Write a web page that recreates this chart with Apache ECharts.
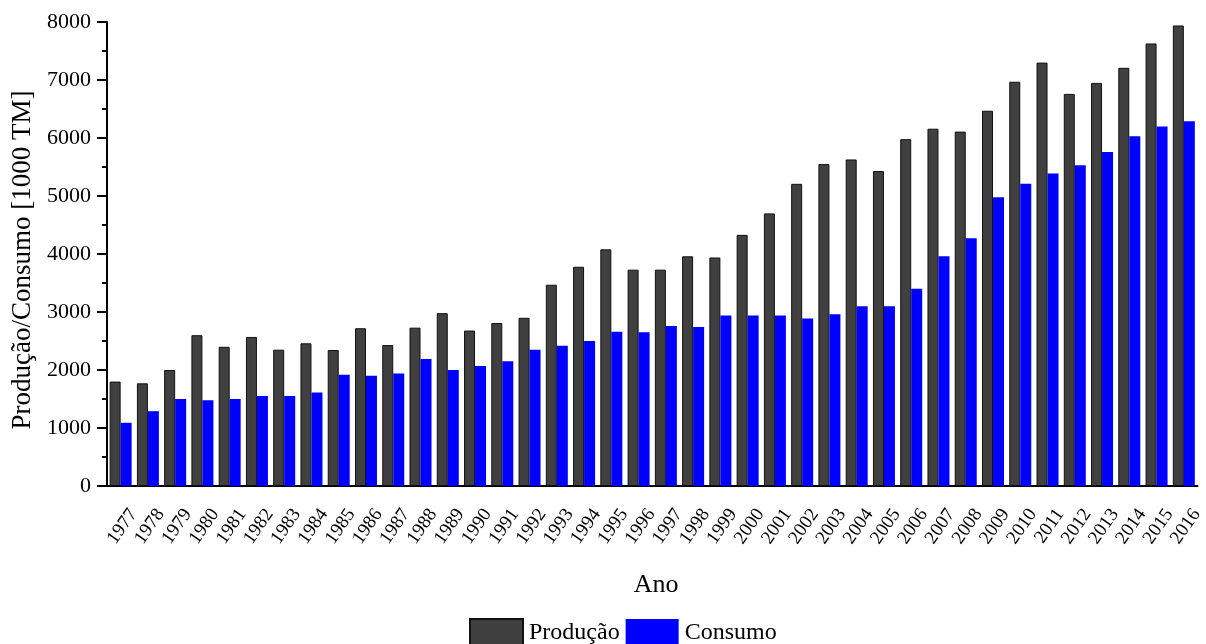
<!DOCTYPE html>
<html>
<head>
<meta charset="utf-8">
<script src="https://cdn.jsdelivr.net/npm/echarts@6/dist/echarts.min.js"></script>
<style>
  html, body { margin: 0; padding: 0; background: #fff; }
  #chart { width: 1206px; height: 644px; }
</style>
</head>
<body>
<div id="chart"></div>
<script>
// dados (1000 TM)
var anos = ['1977','1978','1979','1980','1981','1982','1983','1984','1985','1986',
  '1987','1988','1989','1990','1991','1992','1993','1994','1995','1996',
  '1997','1998','1999','2000','2001','2002','2003','2004','2005','2006',
  '2007','2008','2009','2010','2011','2012','2013','2014','2015','2016']
var producao = [1800, 1770, 2000, 2600, 2400, 2570, 2350, 2460, 2345, 2720,
  2430, 2730, 2980, 2680, 2810, 2900, 3470, 3780, 4080, 3730,
  3730, 3960, 3940, 4330, 4700, 5210, 5550, 5630, 5430, 5980,
  6160, 6110, 6470, 6970, 7300, 6760, 6950, 7210, 7630, 7940]
var consumo = [1090, 1290, 1500, 1480, 1500, 1550, 1550, 1610, 1920, 1900,
  1940, 2190, 2000, 2070, 2150, 2350, 2420, 2500, 2660, 2650,
  2760, 2740, 2940, 2940, 2940, 2890, 2960, 3100, 3100, 3400,
  3960, 4270, 4980, 5210, 5390, 5530, 5760, 6030, 6200, 6290]
var yTicks = { min: 0, max: 8000, interval: 1000 }

var serif = '"Liberation Serif", "Times New Roman", serif'
var chart = echarts.init(document.getElementById('chart'))

chart.setOption({
  animation: false,
  backgroundColor: '#fff',
  grid: { left: 107, right: 6, top: 22, bottom: 158, containLabel: false },
  legend: {
    top: 618,
    left: 469,
    padding: 0,
    itemWidth: 53,
    itemHeight: 27,
    itemGap: 6,
    icon: 'rect',
    textStyle: { fontFamily: serif, fontSize: 24, color: '#000', padding: [0, 0, 0, 1] },
    data: ['Produção', 'Consumo']
  },
  xAxis: [
    {
      type: 'category',
      data: anos,
      name: 'Ano',
      nameLocation: 'middle',
      nameGap: 86,
      nameTextStyle: { fontFamily: serif, fontSize: 26, color: '#000', padding: [0, 0, 0, 8] },
      axisLine: { lineStyle: { color: '#000', width: 2 } },
      axisTick: { alignWithLabel: true, length: 10, lineStyle: { color: '#000', width: 2 } },
      axisLabel: {
        rotate: 55, fontFamily: serif, fontSize: 19, color: '#000',
        margin: 16, interval: 0, verticalAlign: 'top', padding: [6, 0, 0, 0]
      }
    },
    {
      type: 'category',
      data: anos,
      position: 'bottom',
      axisLine: { show: false },
      axisTick: { length: 5, lineStyle: { color: '#000', width: 2 } },
      axisLabel: { show: false }
    }
  ],
  yAxis: {
    type: 'value',
    min: yTicks.min,
    max: yTicks.max,
    interval: yTicks.interval,
    name: 'Produção/Consumo [1000 TM]',
    nameLocation: 'middle',
    nameGap: 70,
    nameTextStyle: { fontFamily: serif, fontSize: 27, color: '#000', padding: [0, 12, 0, 0] },
    axisLine: { show: true, lineStyle: { color: '#000', width: 2 } },
    axisTick: { show: true, length: 10, lineStyle: { color: '#000', width: 2 } },
    minorTick: { show: true, splitNumber: 2, length: 5, lineStyle: { color: '#000', width: 2 } },
    splitLine: { show: false },
    axisLabel: {
      fontFamily: serif, fontSize: 22, color: '#000', margin: 16,
      formatter: function (v) { return String(v) }
    }
  },
  series: [
    {
      name: 'Produção',
      type: 'bar',
      data: producao,
      barWidth: 11,
      barGap: '0%',
      itemStyle: { color: '#404040', borderColor: '#111', borderWidth: 1 }
    },
    {
      name: 'Consumo',
      type: 'bar',
      data: consumo,
      barWidth: 11,
      barGap: '0%',
      itemStyle: { color: '#0000ff' }
    }
  ]
})
</script>
</body>
</html>
